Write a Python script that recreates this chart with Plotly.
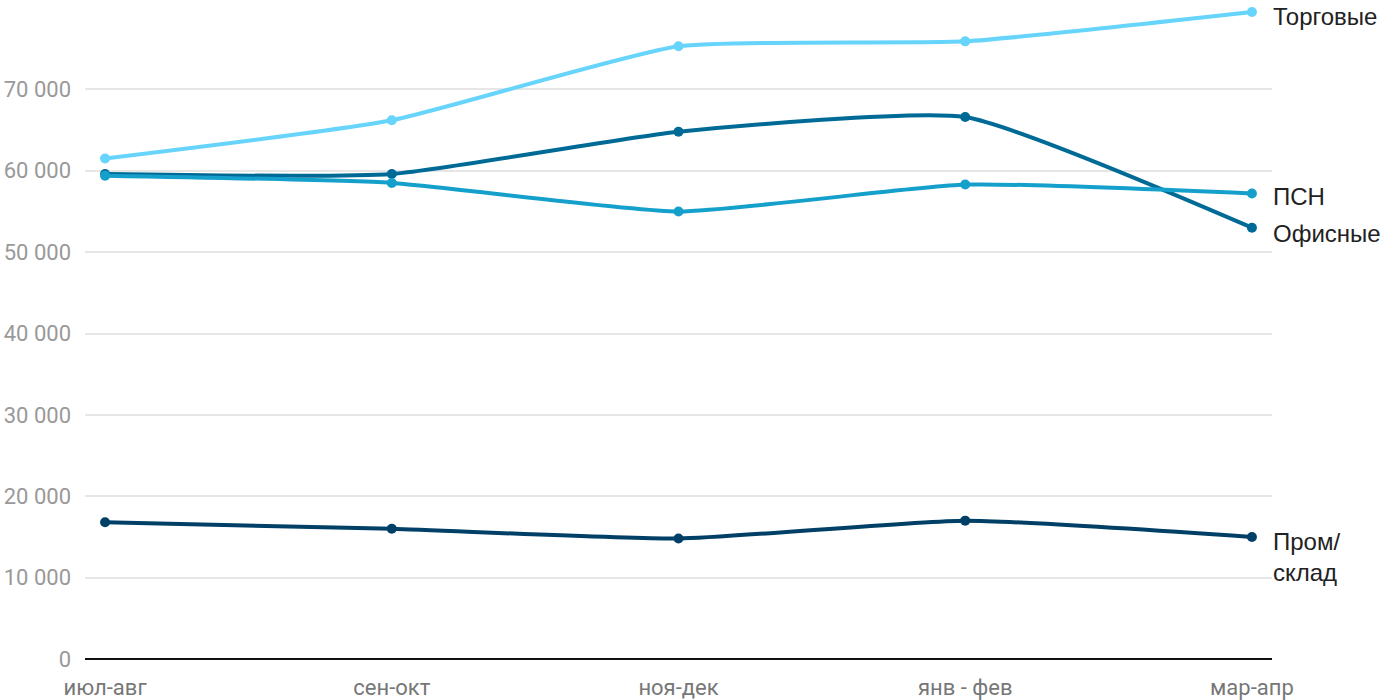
import plotly.graph_objects as go

categories = ["июл-авг", "сен-окт", "ноя-дек", "янв - фев", "мар-апр"]
trade = [61500, 66200, 75300, 75900, 79500]
office = [59600, 59600, 64800, 66600, 53000]
psn = [59400, 58500, 55000, 58300, 57200]
industrial = [16800, 16000, 14800, 17000, 15000]

series = [
    ("Торговые", trade, "#66d4fb", -4),
    ("Офисные", office, "#006a96", -6),
    ("ПСН", psn, "#15a0cc", -3),
    ("Пром/<br>склад", industrial, "#003f66", -20),
]

fig = go.Figure()
for name, vals, color, shift in series:
    fig.add_trace(go.Scatter(
        x=categories, y=vals, mode="lines+markers", name=name,
        line=dict(color=color, width=4, shape="spline", smoothing=0.5),
        marker=dict(color=color, size=10),
        hoverinfo="x+y", cliponaxis=False,
    ))
    fig.add_annotation(
        x=1, xref="paper", y=vals[-1], yref="y", text=name,
        showarrow=False, xanchor="left", yanchor="middle", align="left",
        xshift=-1, yshift=shift,
        font=dict(family="Liberation Sans", size=24, color="#222222"),
    )

fig.update_layout(
    width=1400, height=700,
    margin=dict(l=85, r=128, t=8, b=41),
    paper_bgcolor="white", plot_bgcolor="white",
    showlegend=False,
    separators=", ",
    font=dict(family="Roboto", size=21, color="#999999"),
)
fig.update_xaxes(
    type="category", range=[-0.07, 4.07], automargin=False,
    showgrid=False, showline=False, ticks="",
    tickfont=dict(family="Roboto", size=22, color="#777777"),
    ticklabelstandoff=13,
)
fig.update_yaxes(
    range=[0, 80000], dtick=10000, tickformat=",d", automargin=False,
    showgrid=True, gridcolor="#e6e6e6", gridwidth=2,
    zeroline=True, zerolinecolor="#111111", zerolinewidth=2,
    showline=False, ticks="",
    tickfont=dict(family="Roboto", size=22, color="#999999"),
    ticklabelstandoff=13,
)

fig.write_html(
    "out.html",
    config={"displayModeBar": False},
    post_script="document.body.style.margin='0';document.body.style.overflow='hidden';",
)
